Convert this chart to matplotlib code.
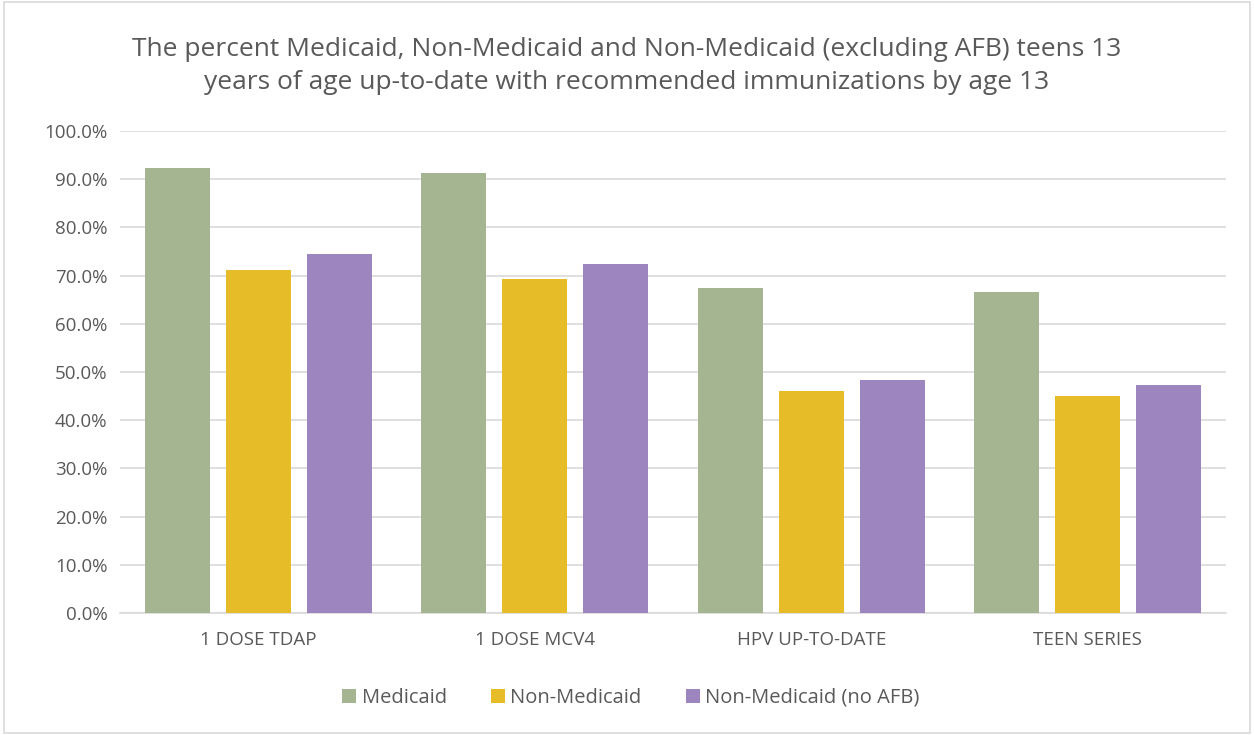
import matplotlib
matplotlib.use("Agg")
import matplotlib.pyplot as plt
import numpy as np
from matplotlib.patches import Rectangle

categories = ["1 DOSE TDAP", "1 DOSE MCV4", "HPV UP-TO-DATE", "TEEN SERIES"]
series_names = ["Medicaid", "Non-Medicaid", "Non-Medicaid (no AFB)"]
medicaid = [92.3, 91.2, 67.4, 66.6]
non_medicaid = [71.2, 69.3, 46.1, 45.0]
non_medicaid_no_afb = [74.5, 72.5, 48.4, 47.2]
yticks = [0, 10, 20, 30, 40, 50, 60, 70, 80, 90, 100]
title = ("The percent Medicaid, Non-Medicaid and Non-Medicaid (excluding AFB) teens 13\n"
         "years of age up-to-date with recommended immunizations by age 13")

colors = ["#A5B592", "#E6BC29", "#9D85C0"]
txt = "#595959"
plt.rcParams['font.family'] = ['Open Sans', 'DejaVu Sans']

fig = plt.figure(figsize=(12.54, 7.35), dpi=100)
fig.patches.append(Rectangle((0.003, 0.003), 0.994, 0.994, transform=fig.transFigure,
                             fill=False, edgecolor="#D9D9D9", linewidth=1.2))
ax = fig.add_axes([120/1254, 1-613/735, (1226-120)/1254, (613-131)/735])

x = np.arange(len(categories))
w = 0.235
off = 0.293
for i, (vals, name) in enumerate(zip([medicaid, non_medicaid, non_medicaid_no_afb], series_names)):
    ax.bar(x + (i-1)*off, vals, w, color=colors[i], label=name, zorder=3)

ax.set_xlim(-0.5, len(categories)-0.5)
ax.set_ylim(0, 100)
ax.set_yticks(yticks)
ax.set_yticklabels([f"{v:.1f}%" for v in yticks], color=txt, fontsize=13.5)
ax.set_xticks(x)
ax.set_xticklabels(categories, color=txt, fontsize=13.5)
ax.tick_params(axis='both', length=0)
ax.tick_params(axis='x', pad=13)
ax.tick_params(axis='y', pad=9)
ax.grid(axis='y', color="#D9D9D9", linewidth=1.2, zorder=0)
for s in ["top", "right", "left"]:
    ax.spines[s].set_visible(False)
ax.spines["bottom"].set_color("#D9D9D9")
ax.spines["bottom"].set_linewidth(1.2)

fig.text(0.5, 1-66/735, title, ha='center', va='center', fontsize=19, color=txt, linespacing=1.45)

leg = fig.legend(loc='center', bbox_to_anchor=(0.503, 1-698/735), ncol=3, frameon=False,
                 fontsize=14.5, handlelength=0.7, handleheight=0.7, handletextpad=0.25,
                 columnspacing=2.2)
for t in leg.get_texts():
    t.set_color(txt)

fig.savefig("out.png", dpi=100, facecolor="white")
